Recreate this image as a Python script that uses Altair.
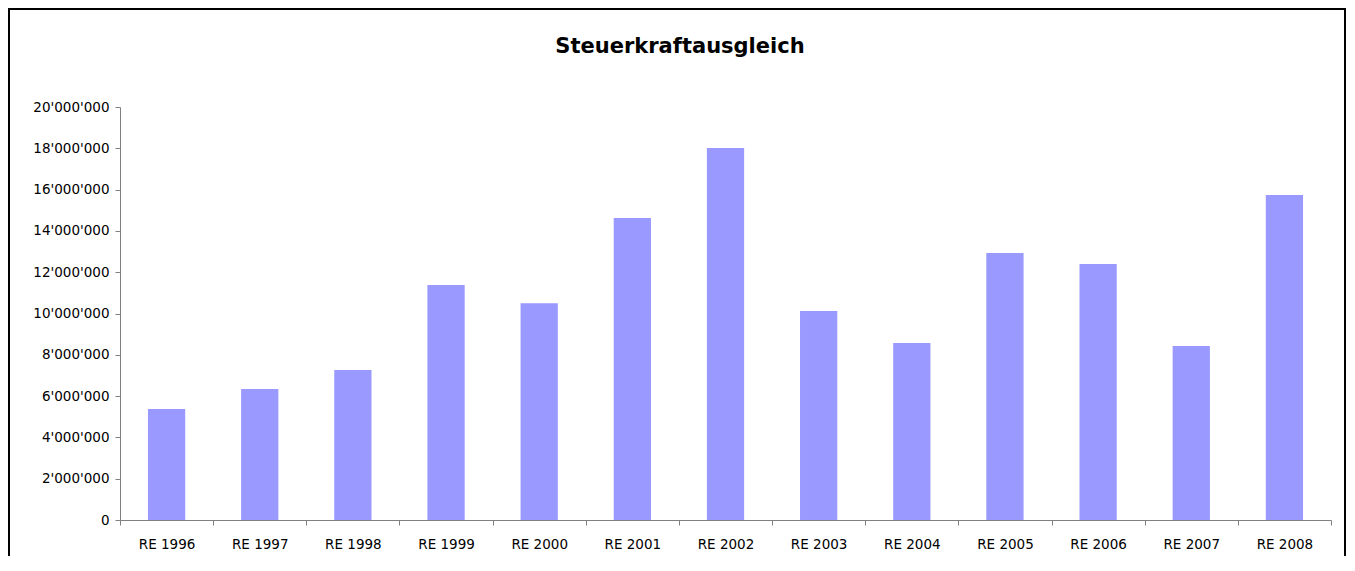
import altair as alt
import pandas as pd

categories = ["RE 1996", "RE 1997", "RE 1998", "RE 1999", "RE 2000", "RE 2001", "RE 2002",
              "RE 2003", "RE 2004", "RE 2005", "RE 2006", "RE 2007", "RE 2008"]
values = [5380000, 6340000, 7260000, 11380000, 10500000, 14620000, 18010000,
          10120000, 8570000, 12930000, 12400000, 8430000, 15740000]
y_ticks = [0, 2000000, 4000000, 6000000, 8000000, 10000000, 12000000,
           14000000, 16000000, 18000000, 20000000]
title_text = "Steuerkraftausgleich"

df = pd.DataFrame({"Jahr": categories, "Betrag": values})
one = pd.DataFrame({"k": [0]})

FONT = "DejaVu Sans"
AXIS_COLOR = "#808080"

bars = alt.Chart(df).mark_bar(color="#9999FF", width=alt.RelativeBandSize(0.4)).encode(
    x=alt.X("Jahr:N", sort=categories,
            scale=alt.Scale(paddingInner=0, paddingOuter=0),
            axis=alt.Axis(title=None, labelAngle=0, tickBand="extent",
                          domainColor=AXIS_COLOR, tickColor=AXIS_COLOR,
                          tickSize=5, labelPadding=12, labelFont=FONT,
                          labelFontSize=13.5, labelColor="black", grid=False)),
    y=alt.Y("Betrag:Q",
            scale=alt.Scale(domain=[0, 20000000], nice=False),
            axis=alt.Axis(title=None, values=y_ticks, format=",d",
                          domainColor=AXIS_COLOR, tickColor=AXIS_COLOR,
                          tickSize=5, labelPadding=6, labelFont=FONT,
                          labelFontSize=13.5, labelColor="black", grid=False)),
)

title = alt.Chart(one).mark_text(
    text=title_text, font=FONT, fontSize=21, fontWeight="bold",
    color="black", align="center", baseline="middle"
).encode(x=alt.value(560), y=alt.value(-60))

border = alt.Chart(one).mark_rect(
    fill="transparent", stroke="black", strokeWidth=2
).encode(x=alt.value(-111), x2=alt.value(1225), y=alt.value(-98), y2=alt.value(500))

chart = alt.layer(border, bars, title).properties(
    width=1211, height=413,
    autosize=alt.AutoSizeParams(type="none"),
    padding={"left": 112, "top": 99, "right": 15, "bottom": 36},
).configure(
    view={"stroke": "transparent", "strokeWidth": 0},
    locale={"number": {"decimal": ".", "thousands": "'", "grouping": [3],
                       "currency": ["", ""]}}
)

chart.save("out.html", embed_options={"renderer": "svg", "actions": False})
